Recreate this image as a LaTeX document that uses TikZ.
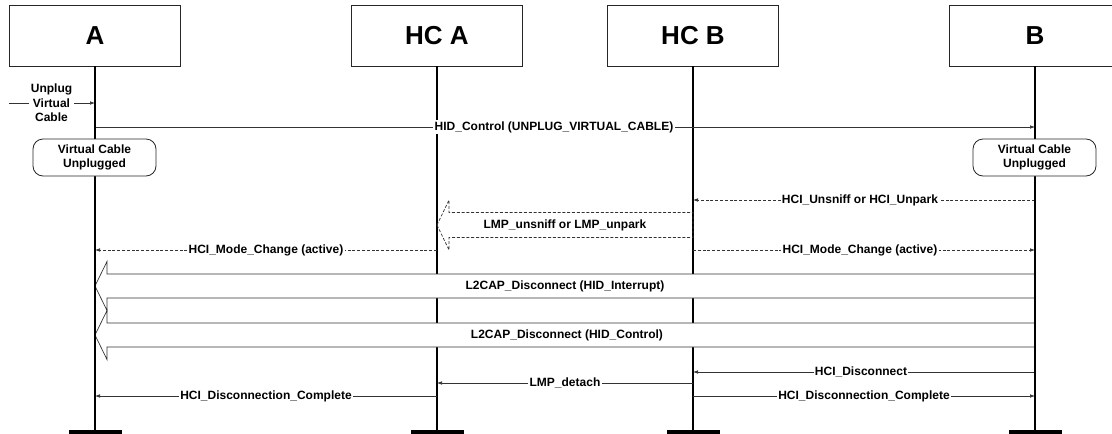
\documentclass[tikz,border=0pt]{standalone}
\usepackage{fontspec}
\setmainfont{Liberation Sans}
\usetikzlibrary{arrows.meta,calc}
\begin{document}
\begin{tikzpicture}[x=1pt,y=-1pt,
  head/.style={draw=black!85, line width=0.8pt, minimum width=171pt, minimum height=61pt, inner sep=0pt, font=\bfseries\fontsize{26}{30}\selectfont},
  life/.style={line width=1.6pt},
  msg/.style={draw=black!80, line width=0.7pt, -{Latex[length=5pt,width=3.6pt]}},
  dmsg/.style={msg, dash pattern=on 3pt off 1.8pt},
  lbl/.style={fill=white, inner sep=1.2pt, font=\bfseries\fontsize{12}{14.5}\selectfont},
  flbl/.style={inner sep=0pt, font=\bfseries\fontsize{12}{14.5}\selectfont},
  state/.style={draw=black!85, line width=0.8pt, rounded corners=10pt, fill=white, minimum width=123pt, minimum height=37pt, align=center, inner sep=0pt, font=\bfseries\fontsize{12}{14.5}\selectfont},
  fat/.style={draw=black!80, line width=0.7pt, fill=white},
  dfat/.style={draw=black!80, line width=0.7pt, dash pattern=on 3pt off 1.8pt}]
\useasboundingbox (0,0) rectangle (1112,434);
\fill[white] (0,0) rectangle (1112,434);

% heads
\node[head] (A) at (95,35.5) {A};
\node[head] (HCA) at (437,35.5) {HC A};
\node[head] (HCB) at (693,35.5) {HC B};
\node[head] (B) at (1035,35.5) {B};

% levels
\coordinate (ft) at (0,430);
\coordinate (u0) at (9,103);
\coordinate (m1) at (0,127);
\coordinate (m2) at (0,200);
\coordinate (m3) at (0,225);
\coordinate (m4) at (0,250);
\coordinate (f1) at (0,286);
\coordinate (f2) at (0,335);
\coordinate (m5) at (0,372);
\coordinate (m6) at (0,383);
\coordinate (m7) at (0,396);

% inner lifelines
\foreach \n in {HCA,HCB} {
  \draw[life] (\n.south) -- (\n |- ft);
  \fill (\n |- ft) ++(-26.5,0) rectangle ++(53,5);
}

% messages
\draw[msg] (u0) -- (A |- u0);
\draw[msg] (A |- m1) -- (B |- m1);
\draw[dmsg] (B |- m2) -- (HCB |- m2);
\draw[dmsg] (HCA |- m4) -- (A |- m4);
\draw[dmsg] (HCB |- m4) -- (B |- m4);
\draw[msg] (B |- m5) -- (HCB |- m5);
\draw[msg] (HCB |- m6) -- (HCA |- m6);
\draw[msg] (HCA |- m7) -- (A |- m7);
\draw[msg] (HCB |- m7) -- (B |- m7);

% fat arrows
\draw[dfat] (HCA |- m3) -- ++(12,-25) -- ++(0,12.5) -- ($(HCB |- m3)+(0,-12.5)$) -- ++(0,25) -- ($(HCA |- m3)+(12,12.5)$) -- ++(0,12.5) -- cycle;
\draw[fat] (A |- f1) -- ++(12,-24.5) -- ++(0,12.5) -- ($(B |- f1)+(0,-12)$) -- ++(0,24) -- ($(A |- f1)+(12,12)$) -- ++(0,12.5) -- cycle;
\draw[fat] (A |- f2) -- ++(12,-24.5) -- ++(0,12.5) -- ($(B |- f2)+(0,-12)$) -- ++(0,24) -- ($(A |- f2)+(12,12)$) -- ++(0,12.5) -- cycle;

% outer lifelines
\foreach \n in {A,B} {
  \draw[life] (\n.south) -- (\n |- ft);
  \fill (\n |- ft) ++(-26.5,0) rectangle ++(53,5);
}

% states
\node[state] (sA) at (94.5,157.5) {Virtual Cable\\Unplugged};
\node[state] (sB) at (1034.5,157.5) {Virtual Cable\\Unplugged};

% labels
\node[lbl, align=center, inner sep=2pt] (unplug) at (51.5,103) {Unplug\\Virtual\\Cable};
\node[lbl] (l1) at (554,127) {HID\_Control (UNPLUG\_VIRTUAL\_CABLE)};
\node[lbl] (l2) at (860,200) {HCI\_Unsniff or HCI\_Unpark};
\node[flbl] (l3) at (565,225) {LMP\_unsniff or LMP\_unpark};
\node[lbl] (l4) at (266,250) {HCI\_Mode\_Change (active)};
\node[lbl] (l5) at (860,250) {HCI\_Mode\_Change (active)};
\node[flbl] (l6) at (565,286) {L2CAP\_Disconnect (HID\_Interrupt)};
\node[flbl] (l7) at (567,335) {L2CAP\_Disconnect (HID\_Control)};
\node[lbl] (l8) at (861,372) {HCI\_Disconnect};
\node[lbl] (l9) at (565,383) {LMP\_detach};
\node[lbl] (l10) at (266,396) {HCI\_Disconnection\_Complete};
\node[lbl] (l11) at (864,396) {HCI\_Disconnection\_Complete};
\end{tikzpicture}
\end{document}
